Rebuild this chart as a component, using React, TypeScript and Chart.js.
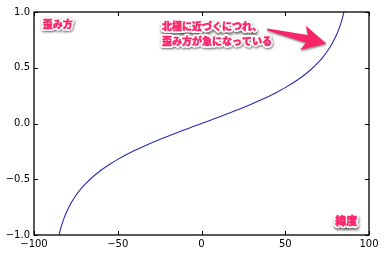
import React, { useEffect, useRef } from "react";
import { Chart, registerables } from "chart.js";

Chart.register(...registerables);

// latitude (degrees)
const latitudes = [
  -87, -86, -85, -84, -83, -82, -81, -80, -77.5, -75, -72.5, -70, -65, -60, -55, -50, -45, -40, -35, -30, -25, -20, -15, -10, -5,
  0, 5, 10, 15, 20, 25, 30, 35, 40, 45, 50, 55, 60, 65, 70, 72.5, 75, 77.5, 80, 81, 82, 83, 84, 85, 86, 87,
];
// distortion value
const distortion = [
  -1.1594, -1.0678, -0.9967, -0.9386, -0.8894, -0.8468, -0.8092, -0.7755, -0.704, -0.6454, -0.5961, -0.5524, -0.4795, -0.4192,
  -0.3674, -0.3217, -0.2805, -0.2428, -0.2078, -0.1748, -0.1435, -0.1134, -0.0843, -0.0558, -0.0278,
  0, 0.0278, 0.0558, 0.0843, 0.1134, 0.1435, 0.1748, 0.2078, 0.2428, 0.2805, 0.3217, 0.3674, 0.4192, 0.4795, 0.5524, 0.5961,
  0.6454, 0.704, 0.7755, 0.8092, 0.8468, 0.8894, 0.9386, 0.9967, 1.0678, 1.1594,
];

const xTicks = [-100, -50, 0, 50, 100];
const yTicks = [-1.0, -0.5, 0.0, 0.5, 1.0];

// annotations
const labelTopLeft = "歪み方";
const labelNote = ["北極に近づくにつれ、", "歪み方が急になっている"];
const labelAxis = "緯度";

const PINK = "#fa2468";
const LINE = "#2b2bb0";

const fmt = (v: number, d: number) => {
  const s = Math.abs(v).toFixed(d);
  return v < 0 ? "\u2212" + s : s;
};

const framePlugin = {
  id: "frameTicks",
  afterDatasetsDraw(chart: any) {
    const { ctx, chartArea: a, scales } = chart;
    ctx.save();
    ctx.strokeStyle = "#000";
    ctx.lineWidth = 1;
    const L = 4;
    ctx.beginPath();
    for (const v of xTicks) {
      const px = Math.round(scales.x.getPixelForValue(v)) + 0.5;
      ctx.moveTo(px, a.bottom);
      ctx.lineTo(px, a.bottom - L);
      ctx.moveTo(px, a.top);
      ctx.lineTo(px, a.top + L);
    }
    for (const v of yTicks) {
      const py = Math.round(scales.y.getPixelForValue(v)) + 0.5;
      ctx.moveTo(a.left, py);
      ctx.lineTo(a.left + L, py);
      ctx.moveTo(a.right, py);
      ctx.lineTo(a.right - L, py);
    }
    ctx.stroke();
    ctx.lineWidth = 1.3;
    ctx.strokeRect(a.left, a.top, a.right - a.left, a.bottom - a.top);
    ctx.restore();
  },
  afterDraw(chart: any) {
    const { ctx, scales } = chart;
    const X = (v: number) => scales.x.getPixelForValue(v);
    const Y = (v: number) => scales.y.getPixelForValue(v);
    const drawLabel = (text: string, x: number, y: number, size: number) => {
      ctx.save();
      ctx.font = `900 ${size}px "Noto Sans CJK JP", sans-serif`;
      ctx.textBaseline = "middle";
      ctx.textAlign = "left";
      ctx.lineJoin = "round";
      ctx.shadowColor = "rgba(0,0,0,0.6)";
      ctx.shadowBlur = 2.5;
      ctx.shadowOffsetX = 0.5;
      ctx.shadowOffsetY = 1.5;
      ctx.strokeStyle = "#ffffff";
      ctx.lineWidth = 4;
      ctx.strokeText(text, x, y);
      ctx.shadowColor = "transparent";
      ctx.fillStyle = PINK;
      ctx.strokeStyle = PINK;
      ctx.lineWidth = 0.4;
      ctx.fillText(text, x, y);
      ctx.strokeText(text, x, y);
      ctx.restore();
    };
    drawLabel(labelTopLeft, X(-94.8), Y(0.895), 10);
    drawLabel(labelNote[0], X(-23.6), Y(0.872), 10);
    drawLabel(labelNote[1], X(-23.6), Y(0.742), 10);
    drawLabel(labelAxis, X(79.8), Y(-0.875), 11);

    // arrow
    const tx = X(39.2), ty = Y(0.845);
    const px = X(74.5), py = Y(0.718);
    const dx = px - tx, dy = py - ty;
    const len = Math.hypot(dx, dy);
    const ux = dx / len, uy = dy / len;
    const nx = -uy, ny = ux;
    const headL = 22, headW = 12.5, shaftW = 4, tailW = 0.9;
    const bx = px - headL * ux, by = py - headL * uy;
    ctx.save();
    ctx.shadowColor = "rgba(0,0,0,0.45)";
    ctx.shadowBlur = 2;
    ctx.shadowOffsetX = 0.5;
    ctx.shadowOffsetY = 1.5;
    ctx.fillStyle = PINK;
    ctx.beginPath();
    ctx.moveTo(tx + tailW * nx, ty + tailW * ny);
    ctx.lineTo(bx + 2 * ux + shaftW * nx, by + 2 * uy + shaftW * ny);
    ctx.lineTo(bx - 2 * ux + headW * nx, by - 2 * uy + headW * ny);
    ctx.lineTo(px, py);
    ctx.lineTo(bx - 2 * ux - headW * nx, by - 2 * uy - headW * ny);
    ctx.lineTo(bx + 2 * ux - shaftW * nx, by + 2 * uy - shaftW * ny);
    ctx.lineTo(tx - tailW * nx, ty - tailW * ny);
    ctx.closePath();
    ctx.fill();
    ctx.restore();
  },
};

export default function App() {
  const ref = useRef<HTMLCanvasElement | null>(null);
  useEffect(() => {
    document.body.style.margin = "0";
    const canvas = ref.current!;
    const points = latitudes.map((x, i) => ({ x, y: distortion[i] }));
    const tickFont = { family: "'DejaVu Sans', sans-serif", size: 10 };
    const chart = new Chart(canvas, {
      type: "line",
      data: {
        datasets: [
          {
            data: points,
            borderColor: LINE,
            borderWidth: 1.1,
            pointRadius: 0,
            tension: 0.3,
            fill: false,
          },
        ],
      },
      options: {
        animation: false,
        responsive: false,
        devicePixelRatio: 1,
        layout: { padding: { left: 0, right: 15, top: 12, bottom: 0 } },
        plugins: { legend: { display: false }, tooltip: { enabled: false } },
        scales: {
          x: {
            type: "linear",
            min: -100,
            max: 100,
            grid: { display: false, drawTicks: false },
            border: { display: false },
            afterBuildTicks: (s: any) => {
              s.ticks = xTicks.map((v) => ({ value: v }));
            },
            afterFit: (s: any) => {
              s.height = 21;
            },
            ticks: {
              color: "#000",
              font: tickFont,
              padding: 3,
              maxRotation: 0,
              autoSkip: false,
              callback: (v: any) => fmt(Number(v), 0),
            },
          },
          y: {
            type: "linear",
            min: -1,
            max: 1,
            grid: { display: false, drawTicks: false },
            border: { display: false },
            afterBuildTicks: (s: any) => {
              s.ticks = yTicks.map((v) => ({ value: v }));
            },
            afterFit: (s: any) => {
              s.width = 34;
            },
            ticks: {
              color: "#000",
              font: tickFont,
              padding: 4,
              autoSkip: false,
              callback: (v: any) => fmt(Number(v), 1),
            },
          },
        },
      },
      plugins: [framePlugin],
    });
    return () => chart.destroy();
  }, []);
  return (
    <div style={{ width: 384, height: 256, background: "#fff" }}>
      <canvas ref={ref} width={384} height={256} style={{ display: "block" }} />
    </div>
  );
}
